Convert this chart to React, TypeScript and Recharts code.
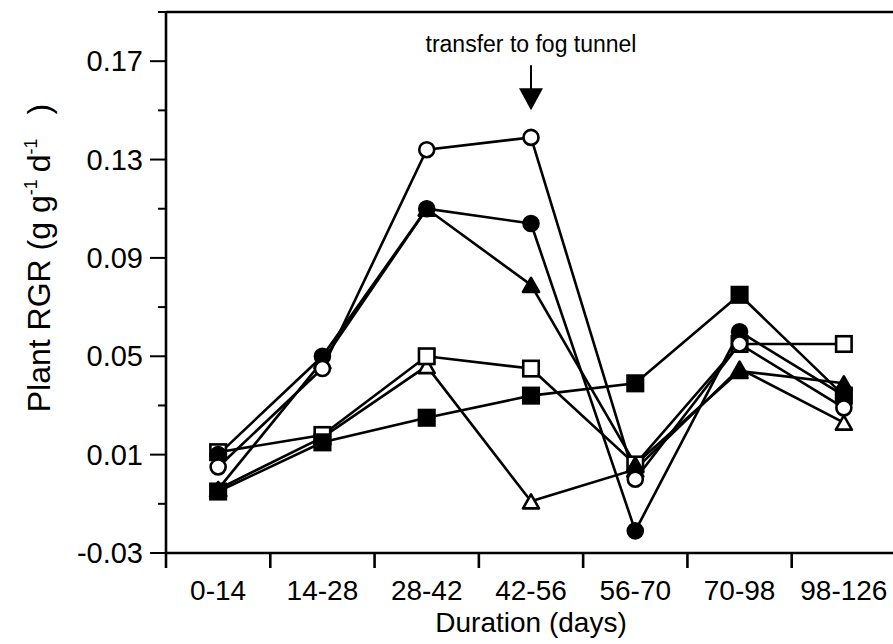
import React from "react";
import { LineChart, Line, XAxis, YAxis, ReferenceLine, ReferenceDot, Label } from "recharts";

// ---- data ----
const categories = ["0-14", "14-28", "28-42", "42-56", "56-70", "70-98", "98-126"];
const openCircle = [0.005, 0.045, 0.134, 0.139, 0.0, 0.055, 0.029];
const filledCircle = [0.01, 0.05, 0.11, 0.104, -0.021, 0.06, 0.034];
const filledTriangle = [-0.004, 0.048, 0.11, 0.079, 0.006, 0.044, 0.039];
const openSquare = [0.011, 0.018, 0.05, 0.045, 0.006, 0.055, 0.055];
const openTriangle = [-0.004, 0.017, 0.046, -0.009, 0.004, 0.045, 0.023];
const filledSquare = [-0.005, 0.015, 0.025, 0.034, 0.039, 0.075, 0.034];

const yMajor = [-0.03, 0.01, 0.05, 0.09, 0.13, 0.17];
const yMinor = [-0.01, 0.03, 0.07, 0.11, 0.15, 0.19];
const yDomain: [number, number] = [-0.03, 0.19];
const annotationText = "transfer to fog tunnel";
const annotationCategory = "42-56";
const annotationTipValue = 0.15;

// ---- layout ----
const W = 893;
const H = 644;
const LEFT = 166;
const TOP = 12;
const RIGHT = -3;
const XAXIS_H = 91;
const PLOT_W = W - LEFT - RIGHT;
const BAND = PLOT_W / categories.length;
const AXIS_Y = H - XAXIS_H;
const FONT = "'Liberation Sans', Arial, Helvetica, sans-serif";
const SW = 2.6;

const data = categories.map((c, i) => ({
  x: i + 0.5,
  cat: c,
  oc: openCircle[i],
  fc: filledCircle[i],
  ft: filledTriangle[i],
  os: openSquare[i],
  ot: openTriangle[i],
  fs: filledSquare[i],
}));

const yTicks = [...yMajor, ...yMinor].sort((a, b) => a - b);
const xBounds = categories.map((_, i) => i).concat([categories.length]);

type Shape = "circle" | "square" | "triangle";
const marker = (shape: Shape, filled: boolean) => (props: any) => {
  const { cx, cy, index } = props;
  if (cx == null || cy == null) return <g key={`m-${index}`} />;
  const fill = filled ? "#000" : "#fff";
  if (shape === "circle") {
    return <circle key={`m-${index}`} cx={cx} cy={cy} r={7.5} fill={fill} stroke="#000" strokeWidth={SW} />;
  }
  if (shape === "square") {
    const s = 15.5;
    return (
      <rect key={`m-${index}`} x={cx - s / 2} y={cy - s / 2} width={s} height={s} fill={fill} stroke="#000" strokeWidth={SW} />
    );
  }
  const h = 14;
  const w = 16;
  return (
    <polygon
      key={`m-${index}`}
      points={`${cx - w / 2},${cy + h / 2} ${cx + w / 2},${cy + h / 2} ${cx},${cy - h / 2}`}
      fill={fill}
      stroke="#000"
      strokeWidth={SW}
      strokeLinejoin="round"
    />
  );
};

const XTick = (props: any) => {
  const { x, payload } = props;
  const i = payload.value;
  if (i >= categories.length) return <g />;
  return (
    <text x={x + BAND / 2} y={AXIS_Y + 47} textAnchor="middle" fontSize={28} fontFamily={FONT} fill="#000">
      {categories[i]}
    </text>
  );
};

const YTick = (props: any) => {
  const { y, payload } = props;
  const v = payload.value;
  const major = yMajor.some((m) => Math.abs(m - v) < 1e-9);
  return (
    <g>
      <line x1={LEFT - (major ? 16 : 8)} x2={LEFT} y1={y} y2={y} stroke="#000" strokeWidth={2} />
      {major && (
        <text x={LEFT - 23} y={y} dy="0.35em" textAnchor="end" fontSize={29} fontFamily={FONT} fill="#000">
          {v.toFixed(2)}
        </text>
      )}
    </g>
  );
};

const YTitle = () => {
  const cx = 50;
  const cy = 258;
  return (
    <text
      x={cx}
      y={cy}
      transform={`rotate(-90, ${cx}, ${cy})`}
      textAnchor="middle"
      fontSize={32}
      fontFamily={FONT}
      fill="#000"
    >
      Plant RGR (g g
      <tspan dy={-13} fontSize={18}>-1</tspan>
      <tspan dy={13} dx={7}>d</tspan>
      <tspan dy={-13} fontSize={18}>-1</tspan>
      <tspan dy={13} dx={24}>)</tspan>
    </text>
  );
};

const XTitle = () => (
  <text x={LEFT + PLOT_W / 2} y={AXIS_Y + 79} textAnchor="middle" fontSize={28} fontFamily={FONT} fill="#000">
    Duration (days)
  </text>
);

const Arrow = (props: any) => {
  const { cx, cy } = props;
  if (cx == null) return <g />;
  return (
    <g>
      <text x={cx} y={cy - 58} textAnchor="middle" fontSize={23} fontFamily={FONT} fill="#000">
        {annotationText}
      </text>
      <line x1={cx} x2={cx} y1={cy - 45} y2={cy - 20} stroke="#000" strokeWidth={2} />
      <polygon points={`${cx - 12},${cy - 22} ${cx + 12},${cy - 22} ${cx},${cy}`} fill="#000" />
    </g>
  );
};

const series: { key: string; shape: Shape; filled: boolean }[] = [
  { key: "ot", shape: "triangle", filled: false },
  { key: "os", shape: "square", filled: false },
  { key: "ft", shape: "triangle", filled: true },
  { key: "fs", shape: "square", filled: true },
  { key: "fc", shape: "circle", filled: true },
  { key: "oc", shape: "circle", filled: false },
];

export default function App() {
  const arrowX = categories.indexOf(annotationCategory) + 0.5;
  return (
    <div style={{ position: "absolute", left: 0, top: 0, width: W, height: H, background: "#fff" }}>
      <LineChart width={W} height={H} data={data} margin={{ top: TOP, right: RIGHT, bottom: 0, left: 0 }}>
        <XAxis
          type="number"
          dataKey="x"
          domain={[0, categories.length]}
          ticks={xBounds}
          interval={0}
          tickSize={15}
          tickLine={{ stroke: "#000", strokeWidth: SW }}
          axisLine={{ stroke: "#000", strokeWidth: SW }}
          height={XAXIS_H}
          tick={<XTick />}
          allowDataOverflow
        >
          <Label content={<XTitle />} />
        </XAxis>
        <YAxis
          type="number"
          domain={yDomain}
          ticks={yTicks}
          interval={0}
          tickLine={false}
          axisLine={{ stroke: "#000", strokeWidth: SW }}
          width={LEFT}
          tick={<YTick />}
          allowDataOverflow
        >
          <Label content={<YTitle />} />
        </YAxis>
        <ReferenceLine y={yDomain[1]} stroke="#000" strokeWidth={SW} />
        {series.map((s) => (
          <Line
            key={s.key}
            type="linear"
            dataKey={s.key}
            stroke="#000"
            strokeWidth={SW}
            dot={marker(s.shape, s.filled)}
            activeDot={false}
            isAnimationActive={false}
          />
        ))}
        <ReferenceDot x={arrowX} y={annotationTipValue} r={0} shape={<Arrow />} />
      </LineChart>
    </div>
  );
}
